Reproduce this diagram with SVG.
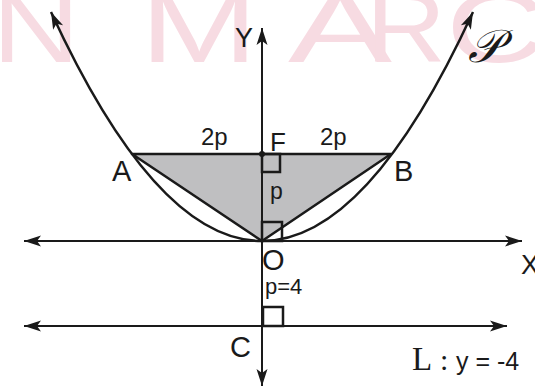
<svg xmlns="http://www.w3.org/2000/svg" width="535" height="390" viewBox="0 0 535 390">
<style>
.wm{font-family:"Liberation Sans",Arial,sans-serif;font-size:100px;fill:#f7dbe2}
.ln{stroke:#1a1a1a;stroke-width:2.5;fill:none}
.ax{stroke:#1a1a1a;stroke-width:2;fill:none}
.lb{font-family:"Liberation Sans",Arial,sans-serif;fill:#1a1a1a}
</style>
<defs>
<marker id="arr" markerUnits="userSpaceOnUse" markerWidth="20" markerHeight="14" viewBox="-18 -7 20 14" refX="0" refY="0" orient="auto-start-reverse">
<path d="M0,0 L-17,-5.5 L-13,0 L-17,5.5 Z" fill="#1a1a1a"/>
</marker>
</defs>
<g id="watermark">
<text class="wm" x="-8" y="62" textLength="88" lengthAdjust="spacingAndGlyphs">N</text>
<text class="wm" x="140" y="62" textLength="118" lengthAdjust="spacingAndGlyphs">M</text>
<text class="wm" x="288" y="62" textLength="104" lengthAdjust="spacingAndGlyphs">A</text>
<text class="wm" x="366" y="62" textLength="80" lengthAdjust="spacingAndGlyphs">R</text>
<text class="wm" x="446" y="62" textLength="100" lengthAdjust="spacingAndGlyphs">C</text>
</g>
<g id="triangle">
<path d="M132,154 L391,154 L262,241 Z" fill="#bfbfc1" stroke="#1a1a1a" stroke-width="2.5" stroke-linejoin="round"/>
<circle cx="262" cy="154" r="3" fill="#1a1a1a"/>
</g>
<g id="connectors">
<line class="ax" x1="262" y1="386" x2="262" y2="28" marker-start="url(#arr)" marker-end="url(#arr)"/>
<line class="ax" x1="24" y1="241" x2="522" y2="241" marker-start="url(#arr)" marker-end="url(#arr)"/>
<line class="ax" x1="24" y1="326" x2="507" y2="326" marker-start="url(#arr)" marker-end="url(#arr)"/>
<path class="ln" d="M51,12 Q262,470 473,12" marker-start="url(#arr)" marker-end="url(#arr)"/>
</g>
<g id="right-angles">
<rect class="ln" x="262" y="154" width="18" height="18"/>
<rect class="ln" x="262" y="222" width="20" height="19"/>
<rect class="ln" x="263" y="307" width="20" height="19"/>
</g>
<g id="labels">
<text class="lb" x="235" y="47" font-size="27">Y</text>
<text class="lb" x="270" y="151" font-size="26">F</text>
<text class="lb" x="201" y="145" font-size="24">2p</text>
<text class="lb" x="320" y="145" font-size="24">2p</text>
<text class="lb" x="112" y="181" font-size="29">A</text>
<text class="lb" x="394" y="181" font-size="29">B</text>
<text class="lb" x="270" y="199" font-size="23">p</text>
<text class="lb" x="262" y="270" font-size="29">O</text>
<text class="lb" x="521" y="274" font-size="27">X</text>
<text class="lb" x="265" y="294" font-size="22">p=4</text>
<text class="lb" x="230" y="357" font-size="29">C</text>
<text x="412" y="370" font-family="Liberation Serif,serif" font-size="33" fill="#1a1a1a">L</text>
<text x="440" y="370" font-family="Liberation Serif,serif" font-size="30" fill="#1a1a1a">:</text>
<text class="lb" x="456" y="370" font-size="25">y = -4</text>
<text x="468" y="62" font-family="DejaVu Serif,Liberation Serif,serif" font-size="46" font-style="italic" fill="#1a1a1a">𝒫</text>
</g>
</svg>
